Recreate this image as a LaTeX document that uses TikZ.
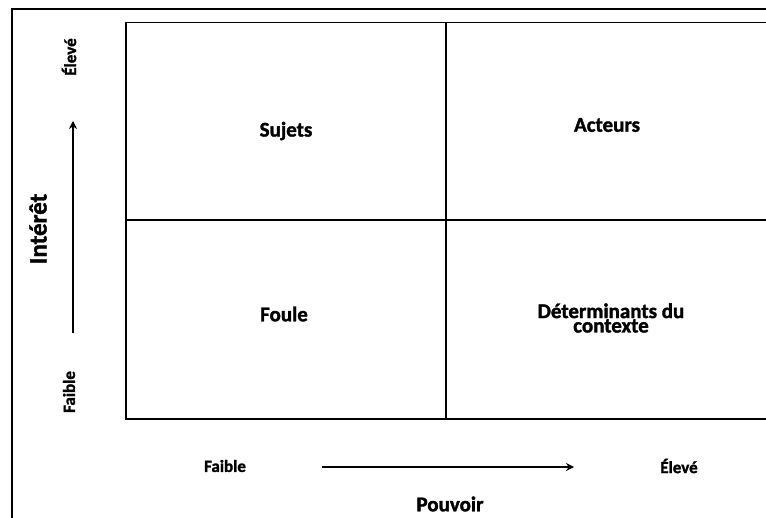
\documentclass[tikz,border=0pt]{standalone}
\usepackage{fontspec}
\setmainfont{Carlito}[BoldFont={Carlito Bold}, BoldFeatures={FakeBold=1.5}]
\usetikzlibrary{arrows.meta}
\begin{document}
\begin{tikzpicture}[x=1pt,y=-1pt,
  lbl/.style={font=\fontsize{#1}{#1}\selectfont\bfseries, inner sep=0pt},
  axis/.style={line width=2.5pt, -{Stealth[length=8pt,width=8pt]}},
  quad/.style={font=\fontsize{21}{21}\selectfont\bfseries, inner sep=0pt, align=center}]
  \useasboundingbox (0,0) rectangle (766,518);
  \clip (0,0) rectangle (766,518);
  \fill[white] (0,0) rectangle (766,518);
  % outer frame
  \draw[line width=2.8pt] (12,9) rectangle (800,560);
  % 2x2 matrix
  \draw[line width=1.8pt] (126,22.5) rectangle (780,419);
  \draw[line width=1.8pt] (446,22.5) -- (446,419);
  \draw[line width=1.8pt] (126,220) -- (780,220);
  % quadrant labels
  \node[quad] (sujets) at (286,131) {Sujets};
  \node[quad] (acteurs) at (607,125) {Acteurs};
  \node[quad] (foule) at (284,314) {Foule};
  \node[quad, font=\fontsize{21}{13}\selectfont\bfseries] (determ) at (611,318) {Déterminants du\\contexte};
  % vertical axis
  \node[lbl=17, rotate=90] (yhigh) at (69,57) {Élevé};
  \node[lbl=17, rotate=90] (ylow) at (69,392) {Faible};
  \node[lbl=25, rotate=90] (ytitle) at (38,229) {Intérêt};
  \coordinate (ya) at (73,333);
  \coordinate (yb) at (73,121);
  \draw[axis] (ya) -- (yb);
  % horizontal axis
  \node[lbl=17] (xlow) at (225,466) {Faible};
  \node[lbl=17] (xhigh) at (679,466) {Élevé};
  \node[lbl=21] (xtitle) at (450,504) {Pouvoir};
  \coordinate (xa) at (322,467);
  \coordinate (xb) at (574,467);
  \draw[axis] (xa) -- (xb);
\end{tikzpicture}
\end{document}
